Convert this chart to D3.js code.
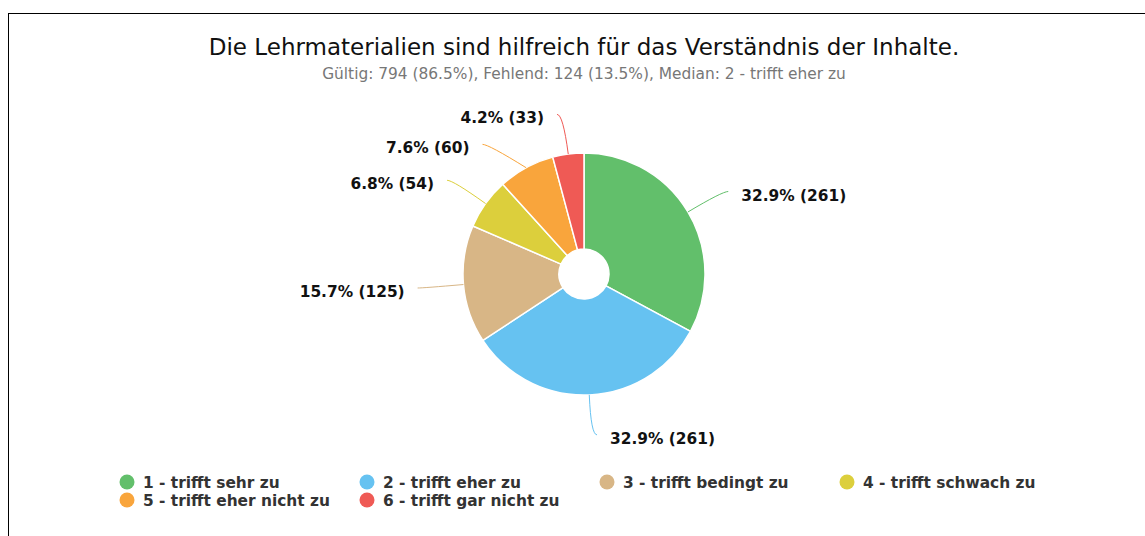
<!DOCTYPE html>
<html>
<head>
<meta charset="utf-8">
<script src="https://cdn.jsdelivr.net/npm/d3@7"></script>
<style>
  html, body { margin: 0; padding: 0; overflow: hidden; background: #fff; }
  #frame {
    position: absolute; left: 8px; top: 13px;
    width: 1150px; height: 600px;
    border-left: 1px solid #000; border-top: 1px solid #000;
  }
  #chart { position: absolute; left: 0; top: 0; }
  text { font-family: "DejaVu Sans", sans-serif; }
</style>
</head>
<body>
<div id="frame"></div>
<div id="chart"></div>
<script>
const W = 1145, H = 536;

// data
const categories = ["1 - trifft sehr zu", "2 - trifft eher zu", "3 - trifft bedingt zu",
  "4 - trifft schwach zu", "5 - trifft eher nicht zu", "6 - trifft gar nicht zu"];
const counts = [261, 261, 125, 54, 60, 33];
const colors = ["#62bf6b", "#66c2f1", "#d8b686", "#dccf3c", "#f9a53c", "#ef5a55"];
const title = "Die Lehrmaterialien sind hilfreich für das Verständnis der Inhalte.";
const subtitle = "Gültig: 794 (86.5%), Fehlend: 124 (13.5%), Median: 2 - trifft eher zu";

const cx = 584, cy = 274;
const rOuter = 121, rInner = 25;
const len1 = 40, len2 = 6, gap = 13;

const svg = d3.select("#chart").append("svg")
  .attr("width", W).attr("height", H);

svg.append("text")
  .attr("x", cx).attr("y", 54.5)
  .attr("text-anchor", "middle")
  .style("font-size", "23px")
  .style("fill", "#111")
  .text(title);

svg.append("text")
  .attr("x", cx).attr("y", 78.5)
  .attr("text-anchor", "middle")
  .style("font-size", "15.4px")
  .style("fill", "#777")
  .text(subtitle);

const total = d3.sum(counts);
const pie = d3.pie().sort(null)(counts);
const arc = d3.arc().innerRadius(rInner).outerRadius(rOuter);

const g = svg.append("g").attr("transform", "translate(" + cx + "," + cy + ")");

g.selectAll("path.slice")
  .data(pie).enter()
  .append("path")
  .attr("class", "slice")
  .attr("d", arc)
  .attr("fill", (d, i) => colors[i])
  .attr("stroke", "#fff")
  .attr("stroke-width", 1.5)
  .attr("stroke-linejoin", "round");

// label layout
const R2 = rOuter + len1;
const labels = pie.map((d, i) => {
  const a = (d.startAngle + d.endAngle) / 2;
  const s = Math.sin(a), c = -Math.cos(a);
  return {
    i: i, a: a,
    right: s >= 0,
    x1: rOuter * s, y1: rOuter * c,
    x2: R2 * s, y2: R2 * c
  };
});

// push overlapping labels apart on each side
const minGap = 30;
[true, false].forEach(side => {
  const list = labels.filter(l => l.right === side).sort((a, b) => a.y2 - b.y2);
  for (let k = 1; k < list.length; k++) {
    if (list[k].y2 < list[k - 1].y2 + minGap) {
      list[k].y2 = list[k - 1].y2 + minGap;
      const dx = Math.sqrt(Math.max(0, R2 * R2 - list[k].y2 * list[k].y2));
      list[k].x2 = side ? dx : -dx;
    }
  }
});

labels.forEach(l => {
  const dir = l.right ? 1 : -1;
  l.x3 = l.x2 + dir * len2;
  l.y3 = l.y2;
  const p = d3.path();
  p.moveTo(l.x1, l.y1);
  p.quadraticCurveTo(l.x2, l.y2, l.x3, l.y3);
  l.path = p.toString();
});

g.selectAll("path.line")
  .data(labels).enter()
  .append("path")
  .attr("class", "line")
  .attr("d", d => d.path)
  .attr("fill", "none")
  .attr("stroke", d => colors[d.i])
  .attr("stroke-width", 1);

g.selectAll("text.lbl")
  .data(labels).enter()
  .append("text")
  .attr("class", "lbl")
  .attr("x", d => d.x3 + (d.right ? gap : -gap))
  .attr("y", d => d.y3 + 9)
  .attr("text-anchor", d => d.right ? "start" : "end")
  .style("font-size", "15.4px")
  .style("font-weight", "bold")
  .style("fill", "#111")
  .text(d => (counts[d.i] / total * 100).toFixed(1) + "% (" + counts[d.i] + ")");

// legend
const colX = d3.scaleLinear().domain([0, 1]).range([127, 367]);
const rowY = d3.scaleLinear().domain([0, 1]).range([482, 500]);
const legend = svg.append("g").selectAll("g")
  .data(categories).enter()
  .append("g")
  .attr("transform", (d, i) => "translate(" + colX(i % 4) + "," + rowY(Math.floor(i / 4)) + ")");

legend.append("circle")
  .attr("r", 7.5)
  .attr("fill", (d, i) => colors[i]);

legend.append("text")
  .attr("x", 16)
  .attr("y", 5.5)
  .style("font-size", "15.4px")
  .style("font-weight", "bold")
  .style("fill", "#333")
  .text(d => d);
</script>
</body>
</html>
